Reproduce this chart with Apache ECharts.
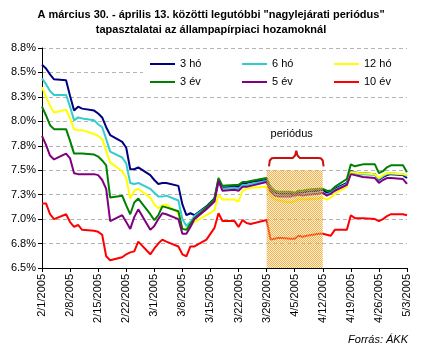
<!DOCTYPE html>
<html>
<head>
<meta charset="utf-8">
<script src="https://cdn.jsdelivr.net/npm/echarts@6/dist/echarts.min.js"></script>
<style>
  html, body { margin: 0; padding: 0; background: #fff; }
  #chart { width: 422px; height: 351px; }
</style>
</head>
<body>
<div id="chart"></div>
<script>
// trading days (2005)
const dates = [
  '2/1','2/2','2/3','2/4','2/7','2/8','2/9','2/10','2/11','2/14',
  '2/15','2/16','2/17','2/18','2/21','2/22','2/23','2/24','2/25','2/28',
  '3/1','3/2','3/3','3/4','3/7','3/8','3/9','3/10','3/11','3/14',
  '3/16','3/17','3/18','3/21','3/22','3/23','3/24','3/25','3/29','3/30',
  '3/31','4/1','4/4','4/5','4/6','4/7','4/8','4/11','4/12','4/13',
  '4/14','4/15','4/18','4/19','4/20','4/21','4/22','4/25','4/26','4/27',
  '4/28','4/29','5/2','5/3'
];
const y3m = [
  8.58, 8.54, 8.48, 8.43, 8.42, 8.26, 8.11, 8.15, 8.13, 8.11,
  8.08, 8.04, 7.94, 7.86, 7.79, 7.73, 7.51, 7.51, 7.53, 7.45,
  7.40, 7.36, 7.37, 7.37, 7.34, 7.15, 7.04, 7.06, 7.04, 7.13,
  7.21, 7.40, 7.32, 7.33, 7.33, 7.36, 7.37, 7.38, 7.40, 7.31,
  7.27, 7.26, 7.26, 7.25, 7.27, 7.27, 7.28, 7.29, 7.30, 7.27,
  7.28, 7.31, 7.37, 7.49, 7.48, 7.47, 7.47, 7.46, 7.40, 7.43,
  7.45, 7.46, 7.45, 7.42
];
const y6m = [
  8.44, 8.38, 8.31, 8.27, 8.27, 8.15, 8.01, 8.04, 8.03, 8.01,
  7.97, 7.94, 7.82, 7.69, 7.63, 7.57, 7.37, 7.36, 7.37, 7.31,
  7.27, 7.23, 7.23, 7.24, 7.19, 7.00, 6.93, 6.97, 7.03, 7.12,
  7.19, 7.38, 7.31, 7.32, 7.31, 7.35, 7.35, 7.36, 7.39, 7.28,
  7.25, 7.24, 7.24, 7.23, 7.25, 7.25, 7.26, 7.27, 7.27, 7.25,
  7.27, 7.30, 7.36, 7.48, 7.47, 7.46, 7.46, 7.45, 7.41, 7.44,
  7.46, 7.47, 7.46, 7.44
];
const y12m = [
  8.35, 8.25, 8.16, 8.09, 8.12, 8.03, 7.92, 7.91, 7.91, 7.87,
  7.85, 7.82, 7.70, 7.58, 7.49, 7.42, 7.21, 7.29, 7.31, 7.22,
  7.15, 7.11, 7.14, 7.15, 7.06, 6.90, 6.90, 6.93, 6.97, 7.04,
  7.09, 7.25, 7.20, 7.20, 7.18, 7.29, 7.31, 7.32, 7.33, 7.24,
  7.20, 7.19, 7.17, 7.18, 7.21, 7.20, 7.20, 7.21, 7.22, 7.20,
  7.22, 7.26, 7.33, 7.48, 7.48, 7.47, 7.47, 7.46, 7.42, 7.45,
  7.47, 7.47, 7.46, 7.45
];
const y3y = [
  8.15, 8.06, 7.96, 7.92, 7.92, 7.80, 7.67, 7.67, 7.67, 7.66,
  7.64, 7.60, 7.55, 7.22, 7.24, 7.14, 7.05, 7.17, 7.21, 7.05,
  6.99, 7.04, 7.13, 7.12, 7.08, 6.90, 6.89, 6.95, 7.01, 7.12,
  7.21, 7.42, 7.34, 7.35, 7.35, 7.38, 7.38, 7.39, 7.42, 7.33,
  7.29, 7.28, 7.28, 7.27, 7.29, 7.29, 7.30, 7.31, 7.31, 7.29,
  7.29, 7.33, 7.41, 7.56, 7.54, 7.55, 7.56, 7.56, 7.47, 7.49,
  7.53, 7.55, 7.55, 7.48
];
const y5y = [
  7.85, 7.76, 7.65, 7.61, 7.67, 7.62, 7.47, 7.46, 7.46, 7.46,
  7.45, 7.40, 7.31, 6.98, 7.04, 6.97, 6.90, 7.02, 7.10, 6.89,
  6.93, 7.00, 7.06, 7.05, 7.00, 6.85, 6.85, 6.92, 7.00, 7.10,
  7.18, 7.39, 7.29, 7.30, 7.29, 7.33, 7.33, 7.34, 7.38, 7.28,
  7.24, 7.23, 7.23, 7.25, 7.25, 7.24, 7.25, 7.26, 7.27, 7.24,
  7.26, 7.29, 7.35, 7.46, 7.45, 7.44, 7.43, 7.42, 7.37, 7.40,
  7.42, 7.42, 7.41, 7.36
];
const y10y = [
  7.16, 7.16, 7.05, 7.00, 7.05, 6.97, 6.92, 6.94, 6.89, 6.88,
  6.87, 6.84, 6.62, 6.58, 6.61, 6.64, 6.66, 6.67, 6.77, 6.64,
  6.70, 6.75, 6.79, 6.77, 6.72, 6.64, 6.62, 6.72, 6.72, 6.79,
  6.91, 7.06, 6.98, 6.98, 6.92, 6.99, 6.96, 6.95, 6.99, 6.79,
  6.80, 6.81, 6.80, 6.80, 6.83, 6.82, 6.83, 6.85, 6.85, 6.84,
  6.83, 6.89, 6.89, 7.04, 7.01, 7.01, 7.01, 7.00, 6.98, 7.00,
  7.03, 7.05, 7.05, 7.04
];
const names = ['3 hó', '6 hó', '12 hó', '3 év', '5 év', '10 év'];
const colors = ['#000080', '#33cccc', '#ffff00', '#008000', '#800080', '#ff0000'];
const values = [y3m, y6m, y12m, y3y, y5y, y10y];

// the "period" (shaded) and the brace above it
const periodStart = '3/29';
const periodEnd = '4/12';
const periodTop = 7.5;
const braceDx = [0.6, 0.8, 1.3, 2.0, 6.5, 7.1, 7.4, 7.7, 8.3, 12.8, 13.5, 14.0, 14.2];
const braceY = [7.54, 7.60, 7.622, 7.625, 7.625, 7.65, 7.70, 7.65, 7.625, 7.625, 7.622, 7.60, 7.54];

const day0 = Date.UTC(2005, 1, 1);
function dayOf(md) {
    const p = md.split('/').map(Number);
    return Math.round((Date.UTC(2005, p[0] - 1, p[1]) - day0) / 86400000);
}
function dayLabel(v) {
    const d = new Date(day0 + v * 86400000);
    return (d.getUTCMonth() + 1) + '/' + d.getUTCDate() + '/2005';
}
const xs = dates.map(dayOf);
const p0 = dayOf(periodStart), p1 = dayOf(periodEnd);

// Excel-like dotted orange pattern
const pat = document.createElement('canvas');
pat.width = 2; pat.height = 2;
const pctx = pat.getContext('2d');
pctx.fillStyle = 'rgba(240,165,50,0.85)';
pctx.fillRect(0, 0, 1, 1); pctx.fillRect(1, 1, 1, 1);
pctx.fillStyle = 'rgba(245,205,110,0.3)';
pctx.fillRect(1, 0, 1, 1); pctx.fillRect(0, 1, 1, 1);

const font = 'Liberation Sans';
const chart = echarts.init(document.getElementById('chart'), null, { renderer: 'canvas' });

const series = names.map((n, i) => ({
    name: n,
    type: 'line',
    data: xs.map((x, j) => [x, values[i][j]]),
    showSymbol: false,
    lineStyle: { width: 2, color: colors[i] },
    itemStyle: { color: colors[i] },
    animation: false
}));
series.push({
    name: 'brace',
    type: 'line',
    z: 10,
    data: braceDx.map((dx, j) => [p0 + dx, braceY[j]]),
    showSymbol: false,
    lineStyle: { width: 2, color: '#cc1010' },
    animation: false,
    markArea: {
        silent: true,
        z: 10,
        itemStyle: { color: { image: pat, repeat: 'repeat' } },
        label: {
            show: true, position: 'top', distance: 31, offset: [-3, 0],
            formatter: 'periódus', color: '#000', fontSize: 11, fontFamily: font
        },
        data: [[{ xAxis: p0, yAxis: 6.5 }, { xAxis: p1, yAxis: periodTop }]]
    }
});

chart.setOption({
    animation: false,
    title: {
        text: 'A március 30. - április 13. közötti legutóbbi "nagylejárati periódus"\ntapasztalatai az állampapírpiaci hozamoknál',
        left: 'center',
        top: 7,
        padding: 0,
        textStyle: { fontSize: 11, fontWeight: 'bold', color: '#000', fontFamily: font, lineHeight: 15 }
    },
    grid: { left: 42, right: 15, top: 48, bottom: 83 },
    legend: [0, 1, 2].map(i => ({
        data: [names[i], names[i + 3]],
        orient: 'vertical',
        left: 143 + 92 * i,
        top: 52,
        padding: [5, 5, 5, 7],
        itemWidth: 25,
        itemHeight: 2,
        itemGap: 4,
        icon: 'rect',
        selectedMode: false,
        textStyle: { fontSize: 11, color: '#000', fontFamily: font, lineHeight: 14 }
    })),
    graphic: [
        { type: 'rect', left: 143, top: 52, z: 3, shape: { width: 264, height: 39 }, style: { fill: '#fff' } },
        {
            type: 'text', right: 14, top: 334,
            style: { text: 'Forrás: ÁKK', fontSize: 11, fontStyle: 'italic', fontFamily: font, fill: '#000' }
        }
    ],
    xAxis: {
        type: 'value',
        min: 0, max: 91, interval: 7,
        axisLine: { lineStyle: { color: '#000', width: 1 } },
        axisTick: { length: 4, lineStyle: { color: '#000' } },
        splitLine: { show: false },
        axisLabel: {
            rotate: 90, margin: 6, fontSize: 11, color: '#000', fontFamily: font,
            formatter: v => dayLabel(v)
        }
    },
    yAxis: {
        type: 'value',
        min: 6.5, max: 8.75, interval: 0.25,
        axisLine: { show: true, lineStyle: { color: '#000', width: 1 } },
        axisTick: { show: true, length: 4, lineStyle: { color: '#000' } },
        splitLine: { lineStyle: { color: '#b4b4b4', type: [4, 3], width: 1 } },
        axisLabel: {
            margin: 6, fontSize: 11, color: '#000', fontFamily: font,
            formatter: v => v.toFixed(1) + '%'
        }
    },
    series: series
});
</script>
</body>
</html>
